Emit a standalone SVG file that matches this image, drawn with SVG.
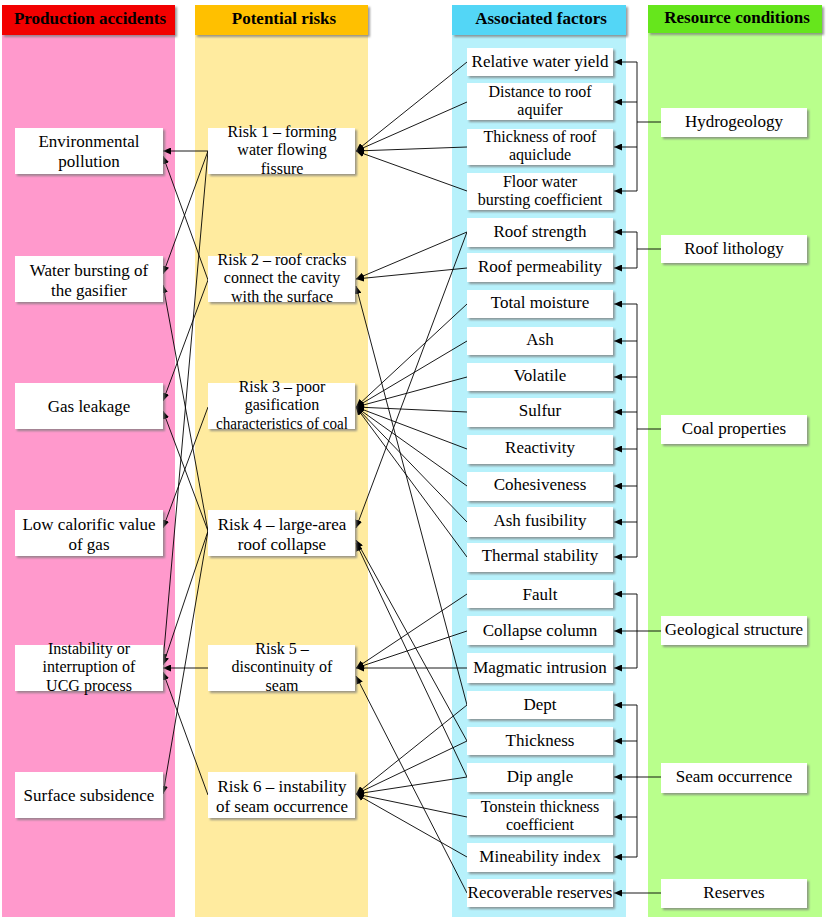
<svg xmlns="http://www.w3.org/2000/svg" width="827" height="917" viewBox="0 0 827 917">
<defs>
<style>
.t{font-family:"Liberation Serif","Times New Roman",serif;font-size:17px;fill:#000;text-anchor:middle}
.m{font-size:16px}
.h{font-weight:bold}
.box{fill:#fff;filter:url(#sh)}
.hd{filter:url(#sh)}
.c line{stroke:#000;stroke-width:0.9;fill:none}
.c .a{marker-end:url(#arr)}
</style>
<filter id="sh" x="-5%" y="-10%" width="115%" height="140%">
<feDropShadow dx="2" dy="2" stdDeviation="0.8" flood-color="#7a7a7a" flood-opacity="0.75"/>
</filter>
<marker id="arr" markerUnits="userSpaceOnUse" markerWidth="9" markerHeight="7" refX="8" refY="3.5" orient="auto">
<path d="M0,0 L8,3.5 L0,7 z" fill="#000"/>
</marker>
</defs>

<g id="columns">
<rect x="2" y="35" width="173" height="882" fill="#FF99CC"/>
<rect x="195" y="35" width="173" height="882" fill="#FFEB9F"/>
<rect x="452" y="35" width="174" height="882" fill="#B7F1FB"/>
<rect x="648" y="33" width="174" height="884" fill="#B9FF8C"/>
<rect class="hd" x="2" y="5" width="173" height="30" fill="#F20000"/>
<rect class="hd" x="195" y="5" width="173" height="30" fill="#FFC000"/>
<rect class="hd" x="452" y="5" width="174" height="30" fill="#52D6F6"/>
<rect class="hd" x="648" y="5" width="174" height="28" fill="#66E61A"/>
<text class="t h" x="90" y="24">Production accidents</text>
<text class="t h" x="284" y="24">Potential risks</text>
<text class="t h" x="541" y="24">Associated factors</text>
<text class="t h" x="737" y="23">Resource conditions</text>
</g>

<g id="connectors" class="c">
<!-- factors to risks -->
<line class="a" x1="467" y1="62" x2="356" y2="151"/>
<line class="a" x1="467" y1="102" x2="356" y2="151"/>
<line class="a" x1="467" y1="147" x2="356" y2="151"/>
<line class="a" x1="467" y1="191" x2="356" y2="151"/>
<line class="a" x1="467" y1="232" x2="356" y2="279"/>
<line class="a" x1="467" y1="268" x2="356" y2="279"/>
<line class="a" x1="467" y1="232" x2="356" y2="528"/>
<line class="a" x1="467" y1="705" x2="356" y2="286"/>
<line class="a" x1="467" y1="304" x2="356" y2="407"/>
<line class="a" x1="467" y1="341" x2="356" y2="407"/>
<line class="a" x1="467" y1="377" x2="356" y2="407"/>
<line class="a" x1="467" y1="412" x2="356" y2="407"/>
<line class="a" x1="467" y1="449" x2="356" y2="407"/>
<line class="a" x1="467" y1="486" x2="356" y2="407"/>
<line class="a" x1="467" y1="522" x2="356" y2="407"/>
<line class="a" x1="467" y1="557" x2="356" y2="407"/>
<line class="a" x1="467" y1="741" x2="356" y2="540"/>
<line class="a" x1="467" y1="777" x2="356" y2="543"/>
<line class="a" x1="467" y1="594" x2="356" y2="668"/>
<line class="a" x1="467" y1="631" x2="356" y2="668"/>
<line class="a" x1="467" y1="668" x2="356" y2="668"/>
<line class="a" x1="467" y1="893" x2="356" y2="676"/>
<line class="a" x1="467" y1="705" x2="356" y2="794"/>
<line class="a" x1="467" y1="741" x2="356" y2="794"/>
<line class="a" x1="467" y1="777" x2="356" y2="794"/>
<line class="a" x1="467" y1="817" x2="356" y2="794"/>
<line class="a" x1="467" y1="857" x2="356" y2="794"/>
<!-- risks to accidents -->
<line class="a" x1="208" y1="151" x2="163" y2="151"/>
<line class="a" x1="208" y1="151" x2="163" y2="274"/>
<line class="a" x1="208" y1="151" x2="163" y2="662"/>
<line class="a" x1="208" y1="280" x2="163" y2="156"/>
<line class="a" x1="208" y1="280" x2="163" y2="401"/>
<line class="a" x1="208" y1="407" x2="163" y2="528"/>
<line class="a" x1="208" y1="531" x2="163" y2="285"/>
<line class="a" x1="208" y1="531" x2="163" y2="411"/>
<line class="a" x1="208" y1="531" x2="163" y2="665"/>
<line class="a" x1="208" y1="531" x2="163" y2="794"/>
<line class="a" x1="208" y1="668" x2="163" y2="668"/>
<line class="a" x1="208" y1="795" x2="163" y2="672"/>
<!-- resource brackets -->
<line x1="661" y1="122" x2="637" y2="122"/>
<line x1="637" y1="62" x2="637" y2="191"/>
<line class="a" x1="637" y1="62" x2="614" y2="62"/>
<line class="a" x1="637" y1="102" x2="614" y2="102"/>
<line class="a" x1="637" y1="147" x2="614" y2="147"/>
<line class="a" x1="637" y1="191" x2="614" y2="191"/>
<line x1="661" y1="249" x2="637" y2="249"/>
<line x1="637" y1="232" x2="637" y2="268"/>
<line class="a" x1="637" y1="232" x2="614" y2="232"/>
<line class="a" x1="637" y1="268" x2="614" y2="268"/>
<line x1="661" y1="429" x2="637" y2="429"/>
<line x1="637" y1="304" x2="637" y2="557"/>
<line class="a" x1="637" y1="304" x2="614" y2="304"/>
<line class="a" x1="637" y1="341" x2="614" y2="341"/>
<line class="a" x1="637" y1="377" x2="614" y2="377"/>
<line class="a" x1="637" y1="412" x2="614" y2="412"/>
<line class="a" x1="637" y1="449" x2="614" y2="449"/>
<line class="a" x1="637" y1="486" x2="614" y2="486"/>
<line class="a" x1="637" y1="522" x2="614" y2="522"/>
<line class="a" x1="637" y1="557" x2="614" y2="557"/>
<line x1="661" y1="631" x2="637" y2="631"/>
<line x1="637" y1="594" x2="637" y2="668"/>
<line class="a" x1="637" y1="594" x2="614" y2="594"/>
<line class="a" x1="637" y1="631" x2="614" y2="631"/>
<line class="a" x1="637" y1="668" x2="614" y2="668"/>
<line x1="661" y1="777" x2="637" y2="777"/>
<line x1="637" y1="705" x2="637" y2="857"/>
<line class="a" x1="637" y1="705" x2="614" y2="705"/>
<line class="a" x1="637" y1="741" x2="614" y2="741"/>
<line class="a" x1="637" y1="777" x2="614" y2="777"/>
<line class="a" x1="637" y1="817" x2="614" y2="817"/>
<line class="a" x1="637" y1="857" x2="614" y2="857"/>
<line class="a" x1="661" y1="893" x2="614" y2="893"/>
</g>

<!-- Production accidents -->
<g id="acc-env"><rect class="box" x="15" y="128" width="148" height="46"/><text class="t" x="89" y="147">Environmental<tspan x="89" dy="20">pollution</tspan></text></g>
<g id="acc-water"><rect class="box" x="15" y="256" width="148" height="46"/><text class="t" x="89" y="276">Water bursting of<tspan x="89" dy="20">the gasifier</tspan></text></g>
<g id="acc-gas"><rect class="box" x="15" y="383" width="148" height="46"/><text class="t" x="89" y="412">Gas leakage</text></g>
<g id="acc-low"><rect class="box" x="15" y="510" width="148" height="46"/><text class="t" x="89" y="530">Low calorific value<tspan x="89" dy="20">of gas</tspan></text></g>
<g id="acc-inst"><rect class="box" x="15" y="645" width="148" height="46"/><text class="t m" x="89" y="654">Instability or<tspan x="89" dy="18.4">interruption of</tspan><tspan x="89" dy="18.4">UCG process</tspan></text></g>
<g id="acc-subs"><rect class="box" x="15" y="772" width="148" height="46"/><text class="t" x="89" y="801">Surface subsidence</text></g>

<!-- Potential risks -->
<g id="risk1"><rect class="box" x="208" y="128" width="147" height="46"/><text class="t m" x="282" y="137">Risk 1 – forming<tspan x="282" dy="18.4">water flowing</tspan><tspan x="282" dy="18.4">fissure</tspan></text></g>
<g id="risk2"><rect class="box" x="208" y="256" width="147" height="46"/><text class="t m" x="282" y="265">Risk 2 – roof cracks<tspan x="282" dy="18.4">connect the cavity</tspan><tspan x="282" dy="18.4">with the surface</tspan></text></g>
<g id="risk3"><rect class="box" x="208" y="383" width="147" height="46"/><text class="t m" x="282" y="392">Risk 3 – poor<tspan x="282" dy="18.4">gasification</tspan><tspan x="282" dy="18.4" textLength="132" lengthAdjust="spacingAndGlyphs">characteristics of coal</tspan></text></g>
<g id="risk4"><rect class="box" x="208" y="510" width="147" height="46"/><text class="t" x="282" y="530">Risk 4 – large-area<tspan x="282" dy="20">roof collapse</tspan></text></g>
<g id="risk5"><rect class="box" x="208" y="645" width="147" height="46"/><text class="t m" x="282" y="654">Risk 5 –<tspan x="282" dy="18.4">discontinuity of</tspan><tspan x="282" dy="18.4">seam</tspan></text></g>
<g id="risk6"><rect class="box" x="208" y="772" width="147" height="46"/><text class="t" x="282" y="792">Risk 6 – instability<tspan x="282" dy="20">of seam occurrence</tspan></text></g>

<!-- Associated factors -->
<g id="f-rwy"><rect class="box" x="467" y="48" width="146" height="28"/><text class="t" x="540" y="67">Relative water yield</text></g>
<g id="f-dra"><rect class="box" x="467" y="83" width="146" height="37"/><text class="t m" x="540" y="97">Distance to roof<tspan x="540" dy="18.4">aquifer</tspan></text></g>
<g id="f-tra"><rect class="box" x="467" y="129" width="146" height="36"/><text class="t m" x="540" y="142">Thickness of roof<tspan x="540" dy="18.4">aquiclude</tspan></text></g>
<g id="f-fwb"><rect class="box" x="467" y="173" width="146" height="37"/><text class="t m" x="540" y="187">Floor water<tspan x="540" dy="18.4">bursting coefficient</tspan></text></g>
<g id="f-rs"><rect class="box" x="467" y="218" width="146" height="29"/><text class="t" x="540" y="237">Roof strength</text></g>
<g id="f-rp"><rect class="box" x="467" y="253" width="146" height="29"/><text class="t" x="540" y="272">Roof permeability</text></g>
<g id="f-tm"><rect class="box" x="467" y="290" width="146" height="28"/><text class="t" x="540" y="308">Total moisture</text></g>
<g id="f-ash"><rect class="box" x="467" y="327" width="146" height="28"/><text class="t" x="540" y="345">Ash</text></g>
<g id="f-vol"><rect class="box" x="467" y="363" width="146" height="28"/><text class="t" x="540" y="381">Volatile</text></g>
<g id="f-sul"><rect class="box" x="467" y="398" width="146" height="29"/><text class="t" x="540" y="416">Sulfur</text></g>
<g id="f-rea"><rect class="box" x="467" y="435" width="146" height="29"/><text class="t" x="540" y="453">Reactivity</text></g>
<g id="f-coh"><rect class="box" x="467" y="472" width="146" height="29"/><text class="t" x="540" y="490">Cohesiveness</text></g>
<g id="f-asf"><rect class="box" x="467" y="507" width="146" height="30"/><text class="t" x="540" y="526">Ash fusibility</text></g>
<g id="f-ts"><rect class="box" x="467" y="543" width="146" height="29"/><text class="t" x="540" y="561">Thermal stability</text></g>
<g id="f-fault"><rect class="box" x="467" y="580" width="146" height="28"/><text class="t" x="540" y="600">Fault</text></g>
<g id="f-cc"><rect class="box" x="467" y="616" width="146" height="29"/><text class="t" x="540" y="636">Collapse column</text></g>
<g id="f-mi"><rect class="box" x="467" y="653" width="146" height="30"/><text class="t" x="540" y="673">Magmatic intrusion</text></g>
<g id="f-dept"><rect class="box" x="467" y="691" width="146" height="28"/><text class="t" x="540" y="710">Dept</text></g>
<g id="f-thick"><rect class="box" x="467" y="727" width="146" height="28"/><text class="t" x="540" y="746">Thickness</text></g>
<g id="f-dip"><rect class="box" x="467" y="763" width="146" height="29"/><text class="t" x="540" y="782">Dip angle</text></g>
<g id="f-ton"><rect class="box" x="467" y="799" width="146" height="36"/><text class="t m" x="540" y="812">Tonstein thickness<tspan x="540" dy="18.4">coefficient</tspan></text></g>
<g id="f-mine"><rect class="box" x="467" y="843" width="146" height="29"/><text class="t" x="540" y="862">Mineability index</text></g>
<g id="f-rr"><rect class="box" x="467" y="879" width="146" height="28"/><text class="t" x="540" y="898">Recoverable reserves</text></g>

<!-- Resource conditions -->
<g id="r-hydro"><rect class="box" x="661" y="108" width="146" height="29"/><text class="t" x="734" y="127">Hydrogeology</text></g>
<g id="r-roof"><rect class="box" x="661" y="235" width="146" height="28"/><text class="t" x="734" y="254">Roof lithology</text></g>
<g id="r-coal"><rect class="box" x="661" y="415" width="146" height="29"/><text class="t" x="734" y="434">Coal properties</text></g>
<g id="r-geo"><rect class="box" x="661" y="616" width="146" height="29"/><text class="t" x="734" y="635">Geological structure</text></g>
<g id="r-seam"><rect class="box" x="661" y="763" width="146" height="30"/><text class="t" x="734" y="782">Seam occurrence</text></g>
<g id="r-res"><rect class="box" x="661" y="879" width="146" height="29"/><text class="t" x="734" y="898">Reserves</text></g>
</svg>
